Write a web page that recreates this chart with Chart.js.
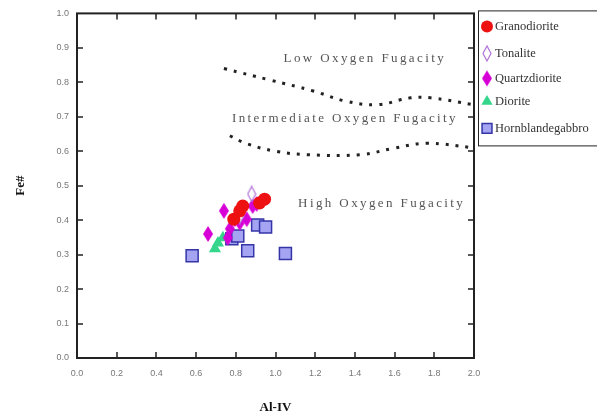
<!DOCTYPE html>
<html>
<head>
<meta charset="utf-8">
<script src="https://cdn.jsdelivr.net/npm/chart.js@4.4.1/dist/chart.umd.min.js"></script>
<style>
  html, body { margin: 0; padding: 0; background: #fff; }
  #wrap { width: 597px; height: 418px; }
</style>
</head>
<body>
<div id="wrap"><canvas id="chart" width="597" height="418"></canvas></div>
<script>
// ── Data (Al-IV, Fe#) ────────────────────────────────
const granodiorite     = [[0.79, 0.403], [0.82, 0.427], [0.835, 0.441], [0.92, 0.45], [0.945, 0.461]];
const tonalite         = [[0.88, 0.476], [0.82, 0.412]];
const quartzdiorite    = [[0.66, 0.36], [0.74, 0.427], [0.76, 0.349], [0.77, 0.375], [0.795, 0.403],
                          [0.82, 0.392], [0.855, 0.403], [0.885, 0.441], [0.905, 0.447]];
const diorite          = [[0.695, 0.317], [0.71, 0.334], [0.735, 0.349]];
const hornblendegabbro = [[0.58, 0.297], [0.78, 0.346], [0.81, 0.354], [0.86, 0.311],
                          [0.91, 0.386], [0.95, 0.38], [1.05, 0.303]];

// boundary curves
const lowIntBoundary  = [[0.74, 0.84], [0.97, 0.807], [1.19, 0.775], [1.35, 0.746], [1.51, 0.735],
                         [1.68, 0.755], [1.78, 0.755], [2.0, 0.735]];
const intHighBoundary = [[0.77, 0.645], [0.855, 0.622], [1.0, 0.6], [1.16, 0.59], [1.43, 0.59],
                         [1.59, 0.608], [1.76, 0.623], [2.0, 0.61]];

// field labels: [text, x, y]
const fieldLabels = [
  ['Low Oxygen Fugacity', 1.45, 0.87],
  ['Intermediate Oxygen Fugacity', 1.35, 0.695],
  ['High Oxygen Fugacity', 1.535, 0.447]
];

const xTicks = [0, 0.2, 0.4, 0.6, 0.8, 1.0, 1.2, 1.4, 1.6, 1.8, 2.0];
const yTicks = [0, 0.1, 0.2, 0.3, 0.4, 0.5, 0.6, 0.7, 0.8, 0.9, 1.0];

const toXY = arr => arr.map(([x, y]) => ({ x, y }));

// ── Custom diamond markers ───────────────────────────
function diamond(w, h, fill, stroke) {
  const c = document.createElement('canvas');
  c.width = w + 2; c.height = h + 2;
  const g = c.getContext('2d');
  g.beginPath();
  g.moveTo(c.width / 2, 1);
  g.lineTo(c.width - 1, c.height / 2);
  g.lineTo(c.width / 2, c.height - 1);
  g.lineTo(1, c.height / 2);
  g.closePath();
  if (fill) { g.fillStyle = fill; g.fill(); }
  if (stroke) { g.strokeStyle = stroke; g.lineWidth = 1.2; g.stroke(); }
  return c;
}
const magentaDiamond = diamond(10, 16, '#d600d6', null);
const hollowDiamond  = diamond(8, 15, '#ffffff', '#b070d8');

// ── Plugins ──────────────────────────────────────────
const framePlugin = {
  id: 'frame',
  beforeDatasetsDraw(chart) {
    const { ctx, chartArea: a, scales: { x, y } } = chart;
    ctx.save();
    ctx.strokeStyle = '#222';
    ctx.lineWidth = 1.5;
    const t = 6;
    ctx.beginPath();
    xTicks.slice(1, -1).forEach(v => {
      const px = Math.round(x.getPixelForValue(v));
      ctx.moveTo(px, a.bottom); ctx.lineTo(px, a.bottom - t);
      ctx.moveTo(px, a.top);    ctx.lineTo(px, a.top + t);
    });
    yTicks.slice(1, -1).forEach(v => {
      const py = Math.round(y.getPixelForValue(v));
      ctx.moveTo(a.left, py);  ctx.lineTo(a.left + t, py);
      ctx.moveTo(a.right, py); ctx.lineTo(a.right - t, py);
    });
    ctx.stroke();
    ctx.lineWidth = 2;
    ctx.strokeRect(a.left, a.top, a.right - a.left, a.bottom - a.top);

    // field labels
    ctx.fillStyle = '#555';
    ctx.font = '13px "Liberation Serif", serif';
    ctx.letterSpacing = '2.4px';
    ctx.textAlign = 'center';
    ctx.textBaseline = 'middle';
    fieldLabels.forEach(([txt, vx, vy]) => {
      ctx.fillText(txt, x.getPixelForValue(vx), y.getPixelForValue(vy));
    });
    ctx.restore();
  }
};

const boxLegendPlugin = {
  id: 'boxLegend',
  afterDraw(chart) {
    const { ctx, chartArea: a } = chart;
    const left = a.right + 4, top = a.top - 3, w = 125, h = 135;
    const rowY = [16, 43, 68, 91, 118];
    const sizes = [6, 5, 5, 6.5, 7];
    ctx.save();
    ctx.strokeStyle = '#222';
    ctx.lineWidth = 1;
    ctx.strokeRect(left + 0.5, top + 0.5, w, h);
    ctx.font = '12.5px "Liberation Serif", serif';
    ctx.textBaseline = 'middle';
    ctx.textAlign = 'left';
    chart.data.datasets.filter(d => !d.isBoundary).forEach((d, i) => {
      const cy = top + rowY[i], cx = left + 9;
      ctx.fillStyle = d.backgroundColor;
      ctx.strokeStyle = d.borderColor;
      ctx.lineWidth = d.borderWidth || 0;
      Chart.helpers.drawPoint(ctx, {
        pointStyle: d.pointStyle, radius: sizes[i], rotation: 0, borderWidth: d.borderWidth || 0
      }, cx, cy);
      ctx.fillStyle = '#333';
      ctx.fillText(d.label, left + 17, cy);
    });
    ctx.restore();
  }
};

// ── Chart ────────────────────────────────────────────
const tickFont = { family: '"Liberation Sans", Arial, sans-serif', size: 9 };
const titleFont = { family: '"Liberation Serif", "Times New Roman", serif', size: 13, weight: 'bold' };

new Chart(document.getElementById('chart'), {
  type: 'scatter',
  data: {
    datasets: [
      { label: 'Granodiorite', data: toXY(granodiorite), pointStyle: 'circle', pointRadius: 6.5,
        backgroundColor: '#ee1111', borderColor: '#ee1111', borderWidth: 0 },
      { label: 'Tonalite', data: toXY(tonalite), pointStyle: hollowDiamond, pointRadius: 6,
        backgroundColor: '#ffffff', borderColor: '#b070d8', borderWidth: 0 },
      { label: 'Quartzdiorite', data: toXY(quartzdiorite), pointStyle: magentaDiamond, pointRadius: 6,
        backgroundColor: '#d600d6', borderColor: '#d600d6', borderWidth: 0 },
      { label: 'Diorite', data: toXY(diorite), pointStyle: 'triangle', pointRadius: 7,
        backgroundColor: '#33d68a', borderColor: '#33d68a', borderWidth: 0 },
      { label: 'Hornblandegabbro', data: toXY(hornblendegabbro), pointStyle: 'rect', pointRadius: 8.5,
        backgroundColor: '#a4a4f2', borderColor: '#3535a8', borderWidth: 1.5 },
      { label: 'b1', isBoundary: true, type: 'line', data: toXY(lowIntBoundary), showLine: true,
        pointRadius: 0, borderColor: '#222', borderWidth: 3, borderDash: [3, 7], tension: 0.4, fill: false },
      { label: 'b2', isBoundary: true, type: 'line', data: toXY(intHighBoundary), showLine: true,
        pointRadius: 0, borderColor: '#222', borderWidth: 3, borderDash: [3, 7], tension: 0.4, fill: false }
    ]
  },
  options: {
    responsive: false,
    animation: false,
    layout: { padding: { left: 0, right: 123, top: 11, bottom: 0 } },
    plugins: { legend: { display: false }, tooltip: { enabled: false } },
    scales: {
      x: {
        type: 'linear', min: 0, max: 2,
        afterBuildTicks: s => { s.ticks = xTicks.map(v => ({ value: v })); },
        afterFit: s => { s.height = 60; },
        grid: { display: false, drawTicks: false },
        border: { display: false },
        ticks: { font: tickFont, color: '#777', padding: 10, callback: v => v.toFixed(1) },
        title: { display: true, text: 'Al-IV', font: titleFont, color: '#111', padding: { top: 0, bottom: 3 } }
      },
      y: {
        type: 'linear', min: 0, max: 1,
        afterBuildTicks: s => { s.ticks = yTicks.map(v => ({ value: v })); },
        afterFit: s => { s.width = 77; },
        grid: { display: false, drawTicks: false },
        border: { display: false },
        ticks: { font: tickFont, color: '#777', padding: 8, callback: v => v.toFixed(1) },
        title: { display: true, text: 'Fe#', font: titleFont, color: '#111', padding: { top: 13, bottom: 0 } }
      }
    }
  },
  plugins: [framePlugin, boxLegendPlugin]
});
</script>
</body>
</html>
